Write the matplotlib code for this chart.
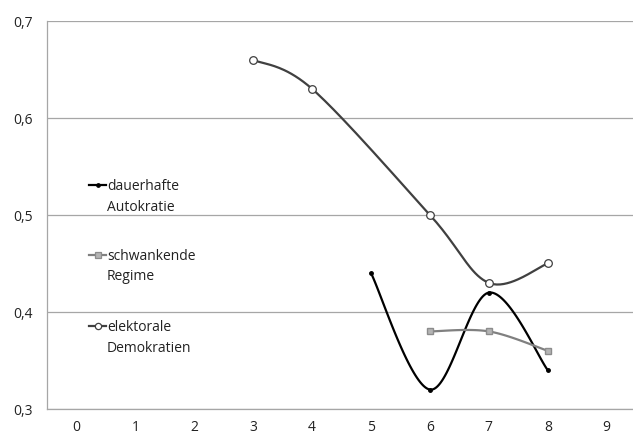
import numpy as np
import matplotlib
matplotlib.use("Agg")
import matplotlib.pyplot as plt
from matplotlib.lines import Line2D

plt.rcParams['font.family'] = ['Open Sans', 'DejaVu Sans']

# data
auto_x = [5, 6, 7, 8]
auto_y = [0.44, 0.32, 0.42, 0.34]
schw_x = [6, 7, 8]
schw_y = [0.38, 0.38, 0.36]
demo_x = [3, 4, 6, 7, 8]
demo_y = [0.66, 0.63, 0.50, 0.43, 0.45]

labels = ["dauerhafte\nAutokratie", "schwankende\nRegime", "elektorale\nDemokratien"]
x_ticks = list(range(0, 10))
y_ticks = [0.3, 0.4, 0.5, 0.6, 0.7]


def smooth(xs, ys, n=40):
    # Excel style smoothed line (bezier with catmull-rom control points)
    p = np.column_stack([xs, ys]).astype(float)
    pts = []
    for i in range(len(p) - 1):
        p0 = p[i - 1] if i > 0 else p[i]
        p3 = p[i + 2] if i + 2 < len(p) else p[i + 1]
        c1 = p[i] + (p[i + 1] - p0) / 6
        c2 = p[i + 1] - (p3 - p[i]) / 6
        t = np.linspace(0, 1, n)[:, None]
        seg = ((1 - t) ** 3) * p[i] + 3 * ((1 - t) ** 2) * t * c1 \
            + 3 * (1 - t) * t ** 2 * c2 + t ** 3 * p[i + 1]
        pts.append(seg if i == 0 else seg[1:])
    pts = np.vstack(pts)
    return pts[:, 0], pts[:, 1]


fig = plt.figure(figsize=(6.33, 4.36), dpi=100)
ax = fig.add_axes([47 / 633, 27 / 436, 1 - 47 / 633 + 0.005, 388 / 436])
ax.set_xlim(-0.5, 9.5)
ax.set_ylim(0.3, 0.7)

ax.set_yticks(y_ticks)
ax.set_yticklabels([("%.1f" % v).replace(".", ",") for v in y_ticks])
ax.set_xticks(x_ticks)
ax.tick_params(length=0, labelsize=10, colors="#222222")
ax.tick_params(axis="y", pad=10)
ax.tick_params(axis="x", pad=8)
ax.grid(axis="y", color="#a6a6a6", lw=0.9)
ax.set_axisbelow(True)
for s in ["top", "right"]:
    ax.spines[s].set_visible(False)
for s in ["left", "bottom"]:
    ax.spines[s].set_color("#a6a6a6")
    ax.spines[s].set_linewidth(0.9)

sx, sy = smooth(auto_x, auto_y)
ax.plot(sx, sy, color="black", lw=1.6, zorder=3)
ax.plot(auto_x, auto_y, "o", color="black", ms=2.5, zorder=4)

sx, sy = smooth(schw_x, schw_y)
ax.plot(sx, sy, color="#808080", lw=1.6, zorder=3)
ax.plot(schw_x, schw_y, "s", mfc="#b4b4b4", mec="#8c8c8c", ms=5, zorder=4)

sx, sy = smooth(demo_x, demo_y)
ax.plot(sx, sy, color="#404040", lw=1.6, zorder=3)
ax.plot(demo_x, demo_y, "o", mfc="white", mec="#404040", ms=5.5, mew=0.9, zorder=4)

# legend, drawn by hand so the handle sits on the first text line
styles = [
    dict(color="black", marker="o", ms=2.5, mfc="black", mec="black"),
    dict(color="#808080", marker="s", mfc="#b4b4b4", mec="#8c8c8c", ms=4.5),
    dict(color="#404040", marker="o", mfc="white", mec="#404040", ms=4.5),
]
leg_y = [185, 255, 326]
for lab, st, yy in zip(labels, styles, leg_y):
    yf = 1 - yy / 436
    fig.add_artist(Line2D([89 / 633, 106 / 633], [yf, yf], color=st["color"], lw=1.6))
    fig.add_artist(Line2D([97.5 / 633], [yf], linestyle="none",
                          marker=st["marker"], ms=st["ms"],
                          mfc=st["mfc"], mec=st["mec"], mew=0.9))
    fig.text(107 / 633, 1 - (yy - 6) / 436, lab, fontsize=10, color="#222222",
             va="top", ha="left", linespacing=1.5)

fig.savefig("out.png", dpi=100)
